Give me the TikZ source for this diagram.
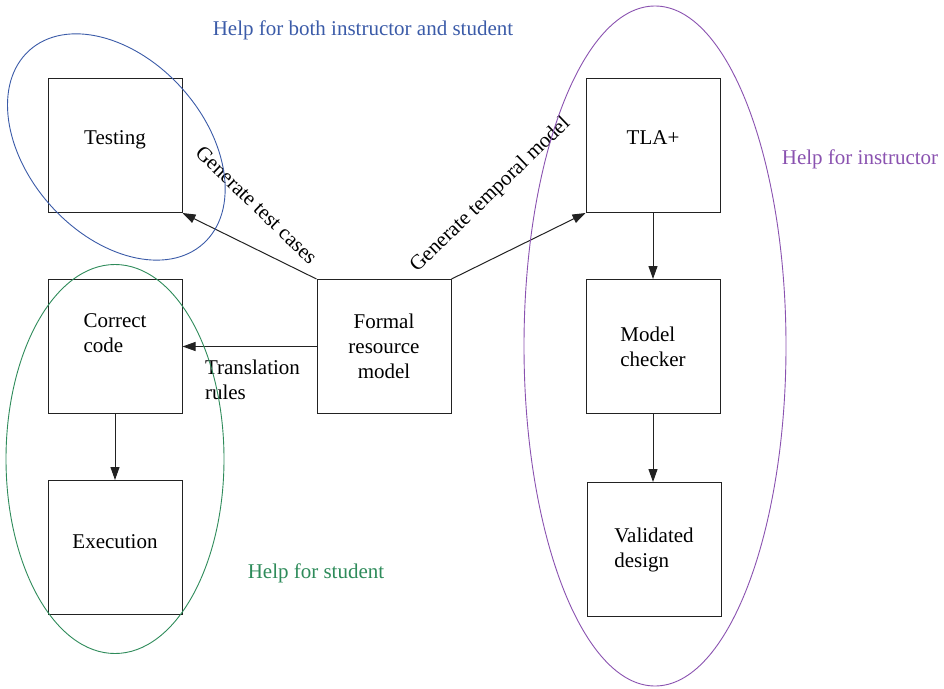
\documentclass[tikz,border=0pt]{standalone}
\usepackage{fontspec}
\setmainfont{Liberation Serif}
\usetikzlibrary{arrows.meta,positioning,calc}
\definecolor{both}{HTML}{3B5BA8}
\definecolor{stud}{HTML}{2E8B5A}
\definecolor{inst}{HTML}{8A52B0}
\definecolor{edge}{HTML}{222222}
\tikzset{
  blk/.style={draw=edge,line width=1pt,minimum width=134pt,minimum height=134pt,inner sep=0pt,align=center},
  lblk/.style={blk,align=left},
  ar/.style={-{Triangle[length=13pt,width=9pt]},line width=1pt,draw=edge},
  grp/.style={line width=0.9pt},
}
\begin{document}
\begin{tikzpicture}[x=1pt,y=1pt,font=\fontsize{21}{25}\selectfont,node distance=66pt and 134pt]
\useasboundingbox (0,0) rectangle (944,-688);
% left column
\node[blk,text depth=16pt] (test) at (115,-145.5) {Testing};
\node[lblk,below=of test,text depth=27pt] (code) {Correct\\code};
\node[blk,below=of code,text depth=12pt] (exec) {Execution};
% middle and right column
\node[blk,right=of code] (frm) {Formal\\resource\\model};
\node[lblk,right=of frm] (mc) {Model\\checker};
\node[blk,above=of mc,text depth=16pt] (tla) {TLA+};
\node[lblk,below=68pt of mc,xshift=1pt] (vd) {Validated\\design};

\draw[ar] (frm.north west) -- (test.south east)
  node[midway,xshift=7pt,yshift=41pt,rotate=-44] {Generate test cases};
\draw[ar] (frm.north east) -- (tla.south west)
  node[midway,xshift=-28pt,yshift=51pt,rotate=44] {Generate temporal model};
\draw[ar] (frm.west) -- (code.east)
  node[midway,below=10pt,xshift=3pt,align=left] {Translation\\rules};
\draw[ar] (code) -- (exec);
\draw[ar] (tla) -- (mc);
\draw[ar] (mc) -- (vd.north-|mc);

% groups
\draw[both,grp,rotate around={-48:($(test)+(2,0)$)}] ($(test)+(2,0)$) ellipse [x radius=130,y radius=88];
\draw[stud,grp] ($(code)!0.5!(exec)+(0,-12)$) ellipse [x radius=109,y radius=194.5];
\draw[inst,grp] ($(mc)+(2,0.5)$) ellipse [x radius=131,y radius=340];
\node[text=both] (lboth) at (363,-30) {Help for both instructor and student};
\node[text=inst] (linst) at (860,-159) {Help for instructor};
\node[text=stud] (lstud) at (316,-573) {Help for student};
\end{tikzpicture}
\end{document}
